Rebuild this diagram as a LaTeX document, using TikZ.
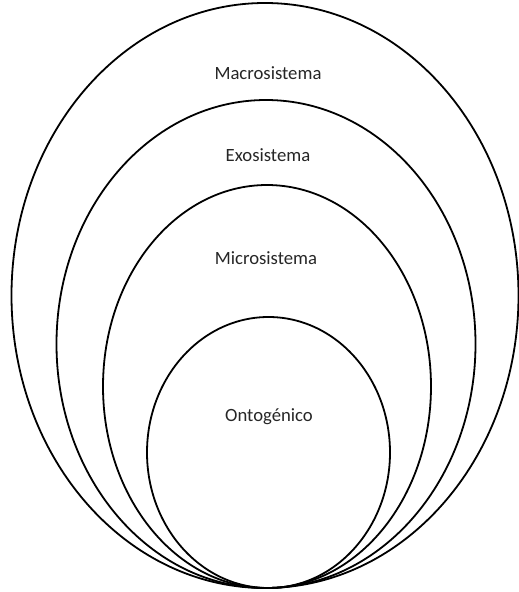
\documentclass[tikz,border=0pt]{standalone}
\usepackage{fontspec}
\setmainfont{Carlito}
\begin{document}
\begin{tikzpicture}[x=1pt,y=-1pt,
  ring/.style={draw=black,line width=1.8pt},
  lbl/.style={font=\fontsize{18.7}{22}\selectfont,text=black!85,inner sep=0pt}]
\useasboundingbox (0,0) rectangle (519,592);
\draw[ring] (265,295.5) ellipse [x radius=253.5, y radius=292.5];
\draw[ring] (266,344) ellipse [x radius=209.5, y radius=244];
\draw[ring] (267,386.5) ellipse [x radius=164, y radius=201.5];
\draw[ring] (268.5,452.5) ellipse [x radius=121.5, y radius=135.5];
\node[lbl] (macro) at (268,73) {Macrosistema};
\node[lbl] (exo) at (268,155) {Exosistema};
\node[lbl] (micro) at (266,258) {Microsistema};
\node[lbl] (onto) at (269,417) {Ontogénico};
\end{tikzpicture}
\end{document}
